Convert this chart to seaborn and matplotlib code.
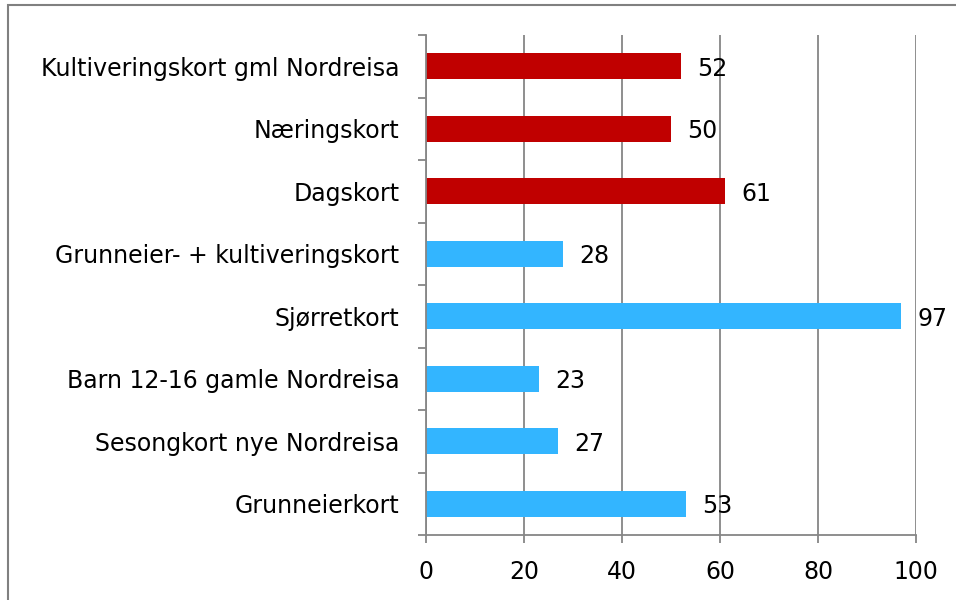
import numpy as np
import pandas as pd
import seaborn as sns
import matplotlib.pyplot as plt
from matplotlib.patches import Rectangle

categories = ["Kultiveringskort gml Nordreisa", "Næringskort", "Dagskort",
              "Grunneier- + kultiveringskort", "Sjørretkort",
              "Barn 12-16 gamle Nordreisa", "Sesongkort nye Nordreisa",
              "Grunneierkort"]
values = [52, 50, 61, 28, 97, 23, 27, 53]
groups = ["a", "a", "a", "b", "b", "b", "b", "b"]
xticks = [0, 20, 40, 60, 80, 100]

sns.set_style("white")
plt.rcParams['font.family'] = ['DejaVu Sans']

df = pd.DataFrame({'kort': categories, 'antall': values, 'gruppe': groups})

fig = plt.figure(figsize=(9.56, 6), dpi=100)
ax = fig.add_axes([426 / 956, 1 - 535 / 600, 490 / 956, 500 / 600])

sns.barplot(data=df, x='antall', y='kort', hue='gruppe', orient='h',
            palette={'a': '#C00000', 'b': '#33B5FF'}, dodge=False,
            legend=False, width=0.41, saturation=1, linewidth=0, ax=ax)

ax.set_xlim(0, 100)
ax.set_ylim(len(categories) - 0.5, -0.5)
ax.set_xticks(xticks)
ax.xaxis.grid(True, color='#868686', linewidth=1.3)
ax.set_axisbelow(True)

for i, v in enumerate(values):
    ax.text(v + 3.3, i + 0.04, str(v), va='center', ha='left', fontsize=17, color='black')

ax.set_xlabel('')
ax.set_ylabel('')
for s in ['top', 'right']:
    ax.spines[s].set_visible(False)
for s in ['left', 'bottom']:
    ax.spines[s].set_color('#868686')
    ax.spines[s].set_linewidth(1.3)

ax.tick_params(axis='y', which='major', length=0, pad=19, labelsize=17, labelcolor='black')
ax.set_yticks(np.arange(-0.5, len(categories), 1), minor=True)
ax.tick_params(axis='y', which='minor', length=6, width=1.3, color='#868686', direction='out', left=True)
ax.tick_params(axis='x', which='major', length=6, width=1.3, color='#868686',
               direction='out', bottom=True, pad=12, labelsize=17, labelcolor='black')

fig.patches.append(Rectangle((8 / 956, -0.1), 2, 1.1 - 5 / 600, transform=fig.transFigure,
                             fill=False, edgecolor='#808080', linewidth=1.5, clip_on=False))

plt.savefig('out.png', dpi=100)
